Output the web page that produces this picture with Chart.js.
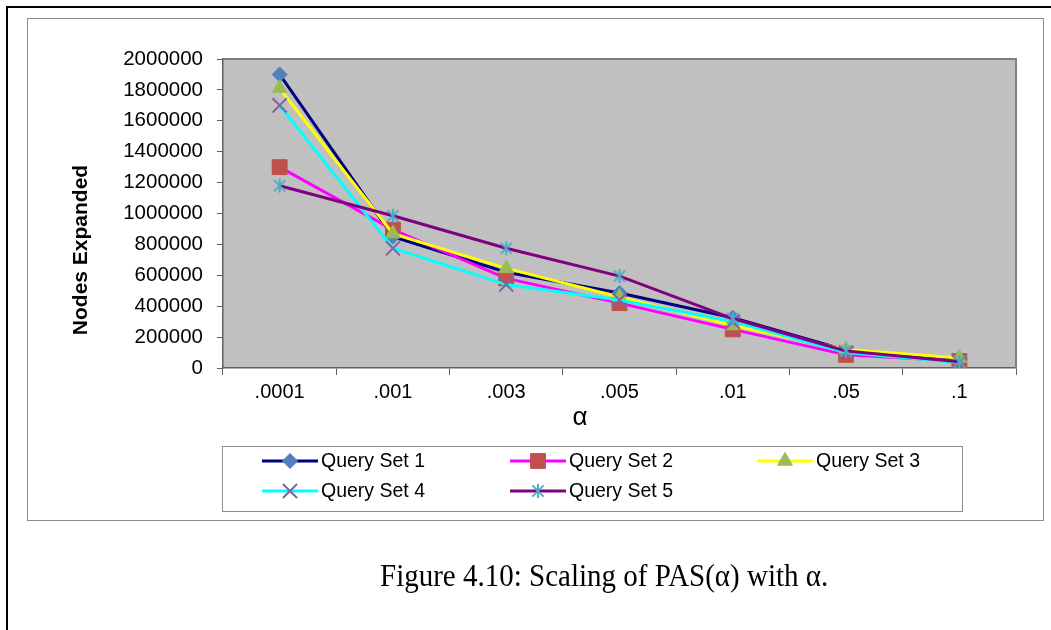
<!DOCTYPE html>
<html>
<head>
<meta charset="utf-8">
<script src="https://cdn.jsdelivr.net/npm/chart.js@4/dist/chart.umd.min.js"></script>
<style>
html,body{margin:0;padding:0;background:#fff;width:1051px;height:630px;overflow:hidden;}
#outerTop{position:absolute;left:6px;top:6px;width:1045px;height:2px;background:#000;}
#outerLeft{position:absolute;left:6px;top:6px;width:2px;height:624px;background:#000;}
#frame{position:absolute;left:27px;top:18px;width:1017px;height:503px;border:1px solid #8c8c8c;box-sizing:border-box;}
#wrap{position:absolute;left:0;top:0;width:1051px;height:630px;}
#caption{position:absolute;left:380px;top:561px;font-family:"Liberation Serif","Times New Roman",serif;font-size:29px;line-height:29px;color:#000;white-space:nowrap;transform-origin:0 50%;transform:scaleY(1.06);}
</style>
</head>
<body>
<div id="outerTop"></div>
<div id="outerLeft"></div>
<div id="frame"></div>
<div id="wrap"><canvas id="c" width="1051" height="630"></canvas></div>
<div id="caption">Figure 4.10: Scaling of PAS(α) with α.</div>
<script>
// ---- data ----
const categories = ['.0001', '.001', '.003', '.005', '.01', '.05', '.1'];
const seriesNames = ['Query Set 1', 'Query Set 2', 'Query Set 3', 'Query Set 4', 'Query Set 5'];
const querySet1 = [1900000, 850000, 620000, 485000, 325000, 115000, 55000];
const querySet2 = [1300000, 895000, 580000, 420000, 250000, 85000, 45000];
const querySet3 = [1810000, 870000, 645000, 460000, 275000, 120000, 65000];
const querySet4 = [1700000, 775000, 540000, 440000, 300000, 100000, 35000];
const querySet5 = [1180000, 985000, 775000, 595000, 320000, 110000, 40000];
const yMin = 0, yMax = 2000000, yStep = 200000;
const xTitle = 'α';
const yTitle = 'Nodes Expanded';

// ---- styles ----
function makeAsterisk(color, size, lw) {
  const cv = document.createElement('canvas');
  cv.width = size; cv.height = size;
  const g = cv.getContext('2d');
  g.strokeStyle = color; g.lineWidth = lw;
  const c = size / 2, r = size / 2 - 1;
  const d = r * 0.8;
  g.beginPath();
  g.moveTo(c, c - r); g.lineTo(c, c + r);
  g.moveTo(c - d, c - d); g.lineTo(c + d, c + d);
  g.moveTo(c - d, c + d); g.lineTo(c + d, c - d);
  g.stroke();
  return cv;
}
const starImg = makeAsterisk('#4BACC6', 16, 2);

const styles = [
  {line: '#000080', marker: '#4F81BD', pointStyle: 'rectRot', radius: 7.5, bw: 1},
  {line: '#FF00FF', marker: '#C0504D', pointStyle: 'rect', radius: 10.5, bw: 1},
  {line: '#FFFF00', marker: '#9BBB59', pointStyle: 'triangle', radius: 8.5, bw: 1},
  {line: '#00FFFF', marker: '#8064A2', pointStyle: 'crossRot', radius: 10, bw: 2},
  {line: '#800080', marker: '#4BACC6', pointStyle: starImg, radius: 8, bw: 2}
];
const allSeries = [querySet1, querySet2, querySet3, querySet4, querySet5];

const datasets = allSeries.map((vals, i) => ({
  label: seriesNames[i],
  data: vals,
  borderColor: styles[i].line,
  backgroundColor: styles[i].marker,
  borderWidth: 3,
  tension: 0,
  pointStyle: styles[i].pointStyle,
  pointRadius: styles[i].radius,
  pointBackgroundColor: styles[i].marker,
  pointBorderColor: styles[i].marker,
  pointBorderWidth: styles[i].bw,
  order: allSeries.length - i
}));

const FONT = '"Liberation Sans", Arial, sans-serif';

const plotBg = {
  id: 'plotBg',
  beforeDraw(chart) {
    const {ctx, chartArea: a} = chart;
    ctx.save();
    ctx.fillStyle = '#C0C0C0';
    ctx.fillRect(a.left, a.top, a.right - a.left, a.bottom - a.top);
    ctx.restore();
  },
  beforeDatasetsDraw(chart) {
    const {ctx, chartArea: a} = chart;
    ctx.save();
    ctx.strokeStyle = '#808080';
    ctx.lineWidth = 2;
    ctx.beginPath();
    ctx.moveTo(a.left, a.top); ctx.lineTo(a.right, a.top); ctx.lineTo(a.right, a.bottom);
    ctx.stroke();
    ctx.restore();
  }
};

const extras = {
  id: 'extras',
  afterDraw(chart) {
    const ctx = chart.ctx;
    // y-axis title
    ctx.save();
    ctx.translate(81, 250);
    ctx.rotate(-Math.PI / 2);
    ctx.font = 'bold 21px ' + FONT;
    ctx.fillStyle = '#000';
    ctx.textAlign = 'center';
    ctx.textBaseline = 'middle';
    ctx.fillText(yTitle, 0, 0);
    ctx.restore();

    // x-axis title
    ctx.save();
    ctx.font = '26px ' + FONT;
    ctx.fillStyle = '#000';
    ctx.textAlign = 'center';
    ctx.textBaseline = 'middle';
    ctx.fillText(xTitle, 580, 418);
    ctx.restore();

    // legend
    ctx.save();
    ctx.strokeStyle = '#8c8c8c';
    ctx.lineWidth = 1;
    ctx.strokeRect(222.5, 446.5, 740, 65);
    const cols = [262, 510, 757];
    const rows = [461, 491];
    seriesNames.forEach((name, i) => {
      const x0 = cols[i % 3], y0 = rows[Math.floor(i / 3)];
      const st = styles[i];
      ctx.strokeStyle = st.line;
      ctx.lineWidth = 3;
      ctx.beginPath();
      ctx.moveTo(x0, y0); ctx.lineTo(x0 + 56, y0);
      ctx.stroke();
      ctx.fillStyle = st.marker;
      ctx.strokeStyle = st.marker;
      ctx.lineWidth = st.bw;
      Chart.helpers.drawPoint(ctx, {pointStyle: st.pointStyle, radius: st.radius, rotation: 0, borderWidth: st.bw}, x0 + 28, y0);
      ctx.fillStyle = '#000';
      ctx.font = '19.5px ' + FONT;
      ctx.textAlign = 'left';
      ctx.textBaseline = 'middle';
      ctx.fillText(name, x0 + 59, y0 + 1);
    });
    ctx.restore();
  }
};

new Chart(document.getElementById('c'), {
  type: 'line',
  data: {labels: categories, datasets: datasets},
  options: {
    responsive: false,
    animation: false,
    events: [],
    layout: {padding: {left: 60, top: 59, right: 35, bottom: 196}},
    plugins: {legend: {display: false}, tooltip: {enabled: false}},
    scales: {
      x: {
        type: 'category',
        offset: true,
        grid: {offset: true, drawOnChartArea: false, tickLength: 7, color: '#606060', lineWidth: 1},
        border: {color: '#606060', width: 1.5},
        ticks: {color: '#000', font: {family: FONT, size: 20}, padding: 5, maxRotation: 0, autoSkip: false},
        title: {display: false},
        afterFit(s) { s.height = 66; }
      },
      y: {
        min: yMin, max: yMax,
        grid: {drawOnChartArea: false, tickLength: 6, color: '#606060', lineWidth: 1},
        border: {color: '#606060', width: 1.5},
        ticks: {stepSize: yStep, color: '#000', font: {family: FONT, size: 20.5}, padding: 14,
                callback: v => String(v)},
        afterFit(s) { s.width = 163; }
      }
    }
  },
  plugins: [plotBg, extras]
});
</script>
</body>
</html>
